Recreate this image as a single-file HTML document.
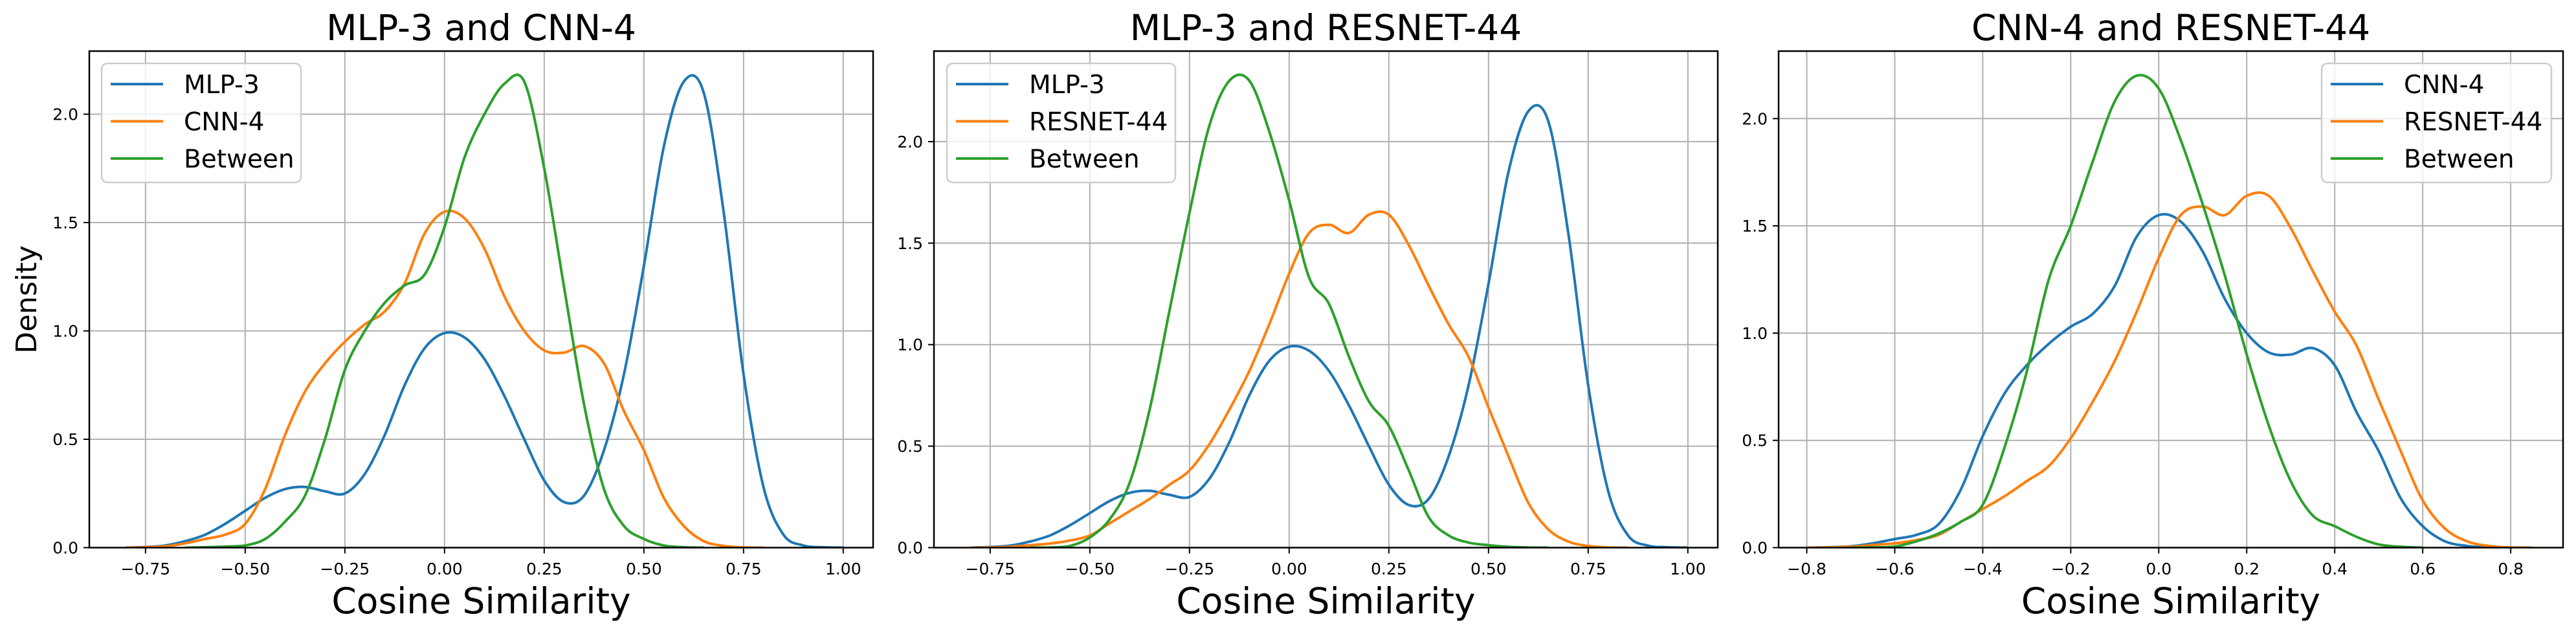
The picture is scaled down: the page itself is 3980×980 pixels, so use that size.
<!DOCTYPE html>
<html><head><meta charset="utf-8"><style>
html,body{margin:0;padding:0;background:#fff;}
svg{display:block;font-family:"DejaVu Sans","Liberation Sans",sans-serif;}
</style></head>
<body>
<svg id="fig" width="3980" height="980" viewBox="0 0 3980 980" xmlns="http://www.w3.org/2000/svg">
<rect width="3980" height="980" fill="#fff"/>
</svg>
<script>
// ---- data ----
const xsMLP = [-0.80,-0.75,-0.70,-0.65,-0.60,-0.55,-0.50,-0.45,-0.40,-0.35,-0.30,-0.25,-0.20,-0.15,-0.10,-0.05,0.00,0.05,0.10,0.15,0.20,0.25,0.30,0.35,0.40,0.45,0.50,0.55,0.60,0.65,0.70,0.75,0.80,0.85,0.90,0.95,1.00];
const mlp3 = [0,0.003,0.01,0.03,0.06,0.11,0.17,0.23,0.27,0.28,0.26,0.25,0.34,0.52,0.75,0.92,0.99,0.97,0.87,0.70,0.50,0.31,0.21,0.24,0.45,0.80,1.30,1.85,2.15,2.10,1.55,0.80,0.28,0.06,0.01,0.002,0];
const xsCNN = [-0.80,-0.75,-0.70,-0.65,-0.60,-0.55,-0.50,-0.45,-0.40,-0.35,-0.30,-0.25,-0.20,-0.15,-0.10,-0.05,0.00,0.05,0.10,0.15,0.20,0.25,0.30,0.35,0.40,0.45,0.50,0.55,0.60,0.65,0.70,0.75,0.80];
const cnn4 = [0,0.002,0.006,0.02,0.04,0.06,0.11,0.27,0.52,0.72,0.85,0.95,1.03,1.09,1.22,1.45,1.55,1.52,1.38,1.16,1.0,0.91,0.90,0.93,0.85,0.63,0.45,0.23,0.10,0.03,0.008,0.001,0];
const xsBetween1 = [-0.65,-0.60,-0.55,-0.50,-0.45,-0.40,-0.35,-0.30,-0.25,-0.20,-0.15,-0.10,-0.05,0.00,0.05,0.10,0.15,0.20,0.25,0.30,0.35,0.40,0.45,0.50,0.55,0.60,0.65];
const between1 = [0,0.002,0.005,0.01,0.04,0.12,0.24,0.50,0.82,1.0,1.13,1.21,1.26,1.48,1.80,2.0,2.14,2.15,1.75,1.20,0.66,0.27,0.10,0.04,0.01,0.002,0];
const xsRes = [-0.80,-0.75,-0.70,-0.65,-0.60,-0.55,-0.50,-0.45,-0.40,-0.35,-0.30,-0.25,-0.20,-0.15,-0.10,-0.05,0.00,0.05,0.10,0.15,0.20,0.25,0.30,0.35,0.40,0.45,0.50,0.55,0.60,0.65,0.70,0.75,0.80,0.85];
const resnet44 = [0,0.001,0.004,0.012,0.02,0.035,0.06,0.12,0.18,0.24,0.31,0.38,0.51,0.68,0.87,1.10,1.35,1.55,1.59,1.55,1.64,1.64,1.49,1.29,1.10,0.94,0.69,0.45,0.22,0.09,0.03,0.008,0.001,0];
const xsBetween2 = [-0.65,-0.60,-0.55,-0.50,-0.45,-0.40,-0.35,-0.30,-0.25,-0.20,-0.15,-0.10,-0.05,0.00,0.05,0.10,0.15,0.20,0.25,0.30,0.35,0.40,0.45,0.50,0.55,0.60,0.65];
const between2 = [0,0.001,0.008,0.05,0.14,0.32,0.68,1.17,1.65,2.08,2.30,2.30,2.05,1.71,1.33,1.20,0.94,0.72,0.60,0.38,0.15,0.06,0.025,0.012,0.004,0.001,0];
const xsBetween3 = [-0.70,-0.65,-0.60,-0.55,-0.50,-0.45,-0.40,-0.35,-0.30,-0.25,-0.20,-0.15,-0.10,-0.05,0.00,0.05,0.10,0.15,0.20,0.25,0.30,0.35,0.40,0.45,0.50,0.55,0.60];
const between3 = [0,0.001,0.005,0.03,0.066,0.12,0.20,0.47,0.82,1.25,1.50,1.80,2.08,2.20,2.14,1.90,1.60,1.27,0.90,0.57,0.31,0.15,0.10,0.05,0.015,0.004,0];
const xTicksA = [-0.75,-0.5,-0.25,0,0.25,0.5,0.75,1.0];
const xTickLabelsA = ["\u22120.75","\u22120.50","\u22120.25","0.00","0.25","0.50","0.75","1.00"];
const xTicksB = [-0.8,-0.6,-0.4,-0.2,0,0.2,0.4,0.6,0.8];
const xTickLabelsB = ["\u22120.8","\u22120.6","\u22120.4","\u22120.2","0.0","0.2","0.4","0.6","0.8"];
const yTicks = [0,0.5,1.0,1.5,2.0];
const yTickLabels = ["0.0","0.5","1.0","1.5","2.0"];

const NS="http://www.w3.org/2000/svg";
const svg=document.getElementById('fig');
const COLORS={blue:"#1f77b4",orange:"#ff7f0e",green:"#2ca02c"};
function mk(tag,attrs,parent){const e=document.createElementNS(NS,tag);for(const k in attrs)e.setAttribute(k,attrs[k]);(parent||svg).appendChild(e);return e;}

function smoothPath(pts){
  let d="M"+pts[0][0].toFixed(2)+","+pts[0][1].toFixed(2);
  for(let i=0;i<pts.length-1;i++){
    const p0=pts[i-1]||pts[i],p1=pts[i],p2=pts[i+1],p3=pts[i+2]||p2;
    const c1=[p1[0]+(p2[0]-p0[0])/6,p1[1]+(p2[1]-p0[1])/6];
    const c2=[p2[0]-(p3[0]-p1[0])/6,p2[1]-(p3[1]-p1[1])/6];
    d+="C"+c1[0].toFixed(2)+","+c1[1].toFixed(2)+" "+c2[0].toFixed(2)+","+c2[1].toFixed(2)+" "+p2[0].toFixed(2)+","+p2[1].toFixed(2);
  }
  return d;
}

const panels=[
 {id:"p1",left:138,right:1349,top:79,bottom:846.5,xmin:-0.891,xmax:1.075,ypu:335,title:"MLP-3 and CNN-4",
  xt:xTicksA,xtl:xTickLabelsA,legendX:157,legendW:308,
  series:[["MLP-3",xsMLP,mlp3,"blue"],["CNN-4",xsCNN,cnn4,"orange"],["Between",xsBetween1,between1,"green"]]},
 {id:"p2",left:1443,right:2654,top:79,bottom:846.5,xmin:-0.891,xmax:1.075,ypu:313.8,title:"MLP-3 and RESNET-44",
  xt:xTicksA,xtl:xTickLabelsA,legendX:1463,legendW:353,
  series:[["MLP-3",xsMLP,mlp3,"blue"],["RESNET-44",xsRes,resnet44,"orange"],["Between",xsBetween2,between2,"green"]]},
 {id:"p3",left:2748,right:3960,top:79,bottom:846.5,xmin:-0.864,xmax:0.919,ypu:331.6,title:"CNN-4 and RESNET-44",
  xt:xTicksB,xtl:xTickLabelsB,legendX:3587,legendW:355,
  series:[["CNN-4",xsCNN,cnn4,"blue"],["RESNET-44",xsRes,resnet44,"orange"],["Between",xsBetween3,between3,"green"]]}
];

panels.forEach((P,pi)=>{
  const g=mk('g',{});
  
  
  const sx=v=>P.left+(v-P.xmin)/(P.xmax-P.xmin)*(P.right-P.left);
  const sy=v=>P.bottom-v*P.ypu;
  const cp=mk('clipPath',{id:'clip'+pi},g);
  mk('rect',{x:P.left,y:P.top,width:P.right-P.left,height:P.bottom-P.top},cp);
  // grid
  P.xt.forEach((t,i)=>{
    const x=sx(t);
    const l=mk('line',{x1:x,x2:x,y1:P.top,y2:P.bottom,stroke:"#b0b0b0","stroke-width":2},g);
    
    
    const tk=mk('line',{x1:x,x2:x,y1:P.bottom,y2:P.bottom+9,stroke:"#000","stroke-width":2},g);
    
    
    const tl=mk('text',{x:x,y:888,"text-anchor":"middle","font-size":25,fill:"#000"},g);
    tl.textContent=P.xtl[i];
    
    
  });
  yTicks.forEach((t,i)=>{
    const y=sy(t);
    const l=mk('line',{x1:P.left,x2:P.right,y1:y,y2:y,stroke:"#b0b0b0","stroke-width":2},g);
    
    
    const tk=mk('line',{x1:P.left-9,x2:P.left,y1:y,y2:y,stroke:"#000","stroke-width":2},g);
    
    
    const tl=mk('text',{x:P.left-17,y:y+9,"text-anchor":"end","font-size":25,fill:"#000"},g);
    tl.textContent=yTickLabels[i];
    
    
  });
  // series
  P.series.forEach(s=>{
    const pts=s[1].map((xv,i)=>[sx(xv),sy(s[2][i])]);
    const p=mk('path',{d:smoothPath(pts),fill:"none",stroke:COLORS[s[3]],"stroke-width":4,"stroke-linejoin":"round","clip-path":"url(#clip"+pi+")"},g);
    
    
  });
  // spines
  const fr=mk('rect',{x:P.left,y:P.top,width:P.right-P.left,height:P.bottom-P.top,fill:"none",stroke:"#000","stroke-width":2.5},g);
  
  
  // title
  const tt=mk('text',{x:(P.left+P.right)/2,y:62,"text-anchor":"middle","font-size":55,fill:"#000"},g);
  tt.textContent=P.title;
  
  
  const xl=mk('text',{x:(P.left+P.right)/2,y:948,"text-anchor":"middle","font-size":55,fill:"#000"},g);
  xl.textContent="Cosine Similarity";
  
  
  // legend
  const lg=mk('g',{},g);
  
  
  mk('rect',{x:P.legendX,y:98,width:P.legendW,height:184,rx:9,fill:"#fff","fill-opacity":0.8,stroke:"#cccccc","stroke-width":2.5},lg);
  P.series.forEach((s,i)=>{
    const y=130+i*57.5;
    const e=mk('g',{},lg);
    
    
    mk('line',{x1:P.legendX+14,x2:P.legendX+95,y1:y,y2:y,stroke:COLORS[s[3]],"stroke-width":4},e);
    const t=mk('text',{x:P.legendX+127,y:y+14,"font-size":39,fill:"#000"},e);
    t.textContent=s[0];
  });
});
const yl=mk('text',{x:0,y:0,"text-anchor":"middle","font-size":44,fill:"#000",transform:"translate(56,463) rotate(-90)"});
yl.textContent="Density";


</script>
</body></html>
